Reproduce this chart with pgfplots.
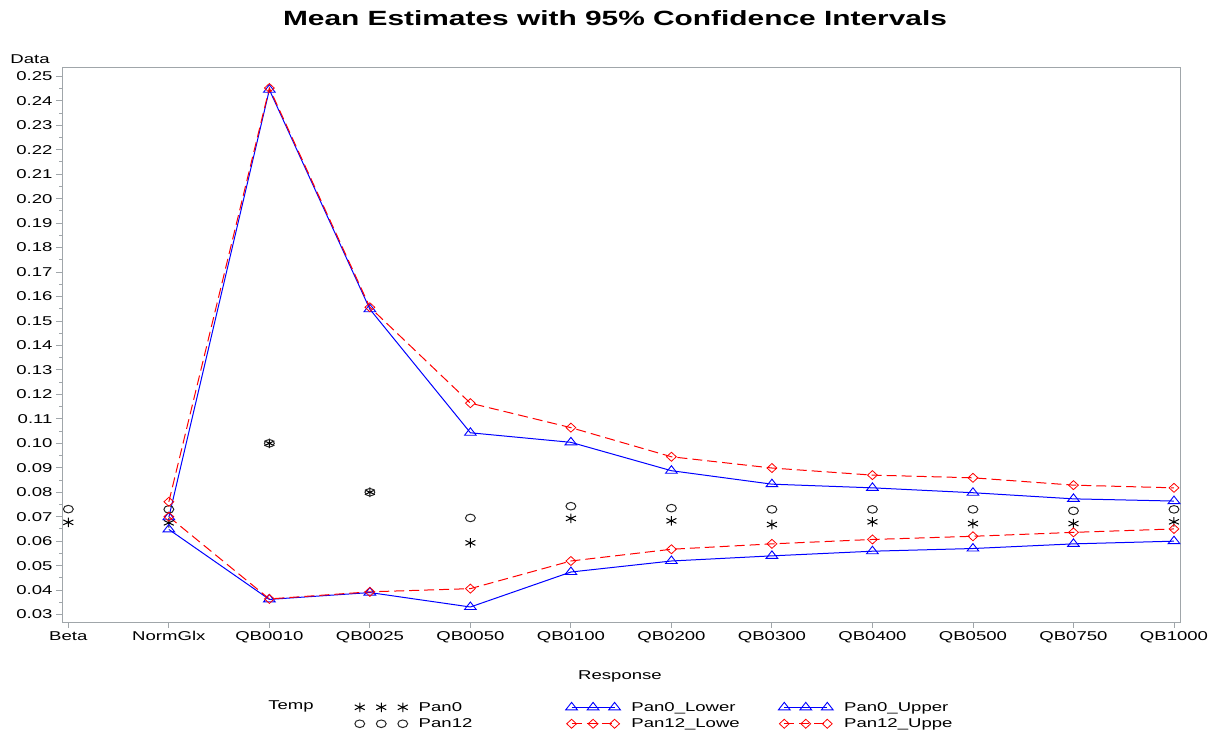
\documentclass[border=0pt]{standalone}
\usepackage{fontspec}
\setmainfont{Liberation Sans}[FakeStretch=1.45]
\usepackage{pgfplots}
\pgfplotsset{compat=1.18}
\definecolor{framegray}{RGB}{160,166,170}
\begin{document}
\begin{tikzpicture}[x=1pt,y=1pt]
\path[use as bounding box] (0,0) rectangle (1215,730);
\begin{axis}[
  at={(62pt,108pt)}, anchor=south west,
  scale only axis, width=1118pt, height=555pt,
  xmin=-0.063, xmax=11.06, ymin=0.02697, ymax=0.2538,
  xtick={0,...,11},
  xticklabels={Beta,NormGlx,QB0010,QB0025,QB0050,QB0100,QB0200,QB0300,QB0400,QB0500,QB0750,QB1000},
  ytick={0.03,0.04,...,0.255},
  minor y tick num=1,
  tick align=outside,
  major tick length=6pt, minor tick length=3pt,
  xtick pos=bottom, ytick pos=left,
  axis line style={framegray, line width=0.9pt},
  every tick/.style={framegray, line width=0.9pt},
  tick label style={font=\fontsize{12.8}{14}\selectfont, black},
  /pgf/number format/assume math mode=true,
  yticklabel style={/pgf/number format/.cd, fixed, fixed zerofill, precision=2},
  scaled y ticks=false,
  legend columns=3,
  legend style={draw=none, fill=none, at={(0.259,-0.135)}, anchor=north west,
    font=\fontsize{12.8}{14}\selectfont, row sep=0pt,
    nodes={inner sep=3pt}},
  legend cell align=left,
  legend image code/.code={\draw[#1] plot coordinates {(0pt,0pt) (21.5pt,0pt) (43pt,0pt)};},
]
\addplot[only marks, black, mark=asterisk, mark size=4.8pt, mark options={xscale=1.2, line width=1pt}] coordinates {
(0,0.0677) (1,0.0675) (2,0.100) (3,0.080) (4,0.0593) (5,0.0693) (6,0.0683) (7,0.0668) (8,0.0679) (9,0.0672) (10,0.0672) (11,0.0679)};
\addlegendentry{\hspace{8pt}\makebox[144pt][l]{Pan0}}
\addplot[blue, line width=1pt, mark=triangle, mark size=5pt, mark options={xscale=1.35, solid, line width=0.9pt}] coordinates {
(1,0.0648) (2,0.0362) (3,0.0390) (4,0.0331) (5,0.0474) (6,0.0519) (7,0.0540) (8,0.0559) (9,0.0570) (10,0.0589) (11,0.0600)};
\addlegendentry{\hspace{8pt}\makebox[144pt][l]{Pan0\_Lower}}
\addplot[blue, line width=1pt, mark=triangle, mark size=5pt, mark options={xscale=1.35, solid, line width=0.9pt}] coordinates {
(1,0.0698) (2,0.2445) (3,0.1548) (4,0.1043) (5,0.1004) (6,0.0888) (7,0.0833) (8,0.0818) (9,0.0798) (10,0.0773) (11,0.0764)};
\addlegendentry{\hspace{8pt}Pan0\_Upper}
\addplot[only marks, black!85, mark=o, mark size=3.8pt, mark options={xscale=1.3, line width=1pt}] coordinates {
(0,0.0731) (1,0.0730) (2,0.100) (3,0.080) (4,0.0695) (5,0.0743) (6,0.0735) (7,0.0730) (8,0.0730) (9,0.0730) (10,0.0724) (11,0.0730)};
\addlegendentry{\hspace{8pt}\makebox[144pt][l]{Pan12}}
\addplot[red, line width=1pt, dash pattern=on 10pt off 5pt, mark=diamond, mark size=4.5pt, mark options={xscale=1.45, solid, line width=0.8pt}] coordinates {
(1,0.0700) (2,0.0364) (3,0.0393) (4,0.0406) (5,0.0519) (6,0.0567) (7,0.0589) (8,0.0607) (9,0.0620) (10,0.0636) (11,0.0650)};
\addlegendentry{\hspace{8pt}\makebox[144pt][l]{Pan12\_Lowe}}
\addplot[red, line width=1pt, dash pattern=on 10pt off 5pt, mark=diamond, mark size=4.5pt, mark options={xscale=1.45, solid, line width=0.8pt}] coordinates {
(1,0.0761) (2,0.2452) (3,0.1556) (4,0.1164) (5,0.1064) (6,0.0945) (7,0.0899) (8,0.0870) (9,0.0859) (10,0.0829) (11,0.0818)};
\addlegendentry{\hspace{8pt}Pan12\_Uppe}
\end{axis}
\node at (615,712) {\fontsize{20.6}{24}\selectfont\bfseries Mean Estimates with 95\% Confidence Intervals};
\node at (30,671) {\fontsize{12.8}{14}\selectfont Data};
\node at (620,54) {\fontsize{12.8}{14}\selectfont Response};
\node at (291,23.5) {\fontsize{12.8}{14}\selectfont Temp};
\end{tikzpicture}
\end{document}
